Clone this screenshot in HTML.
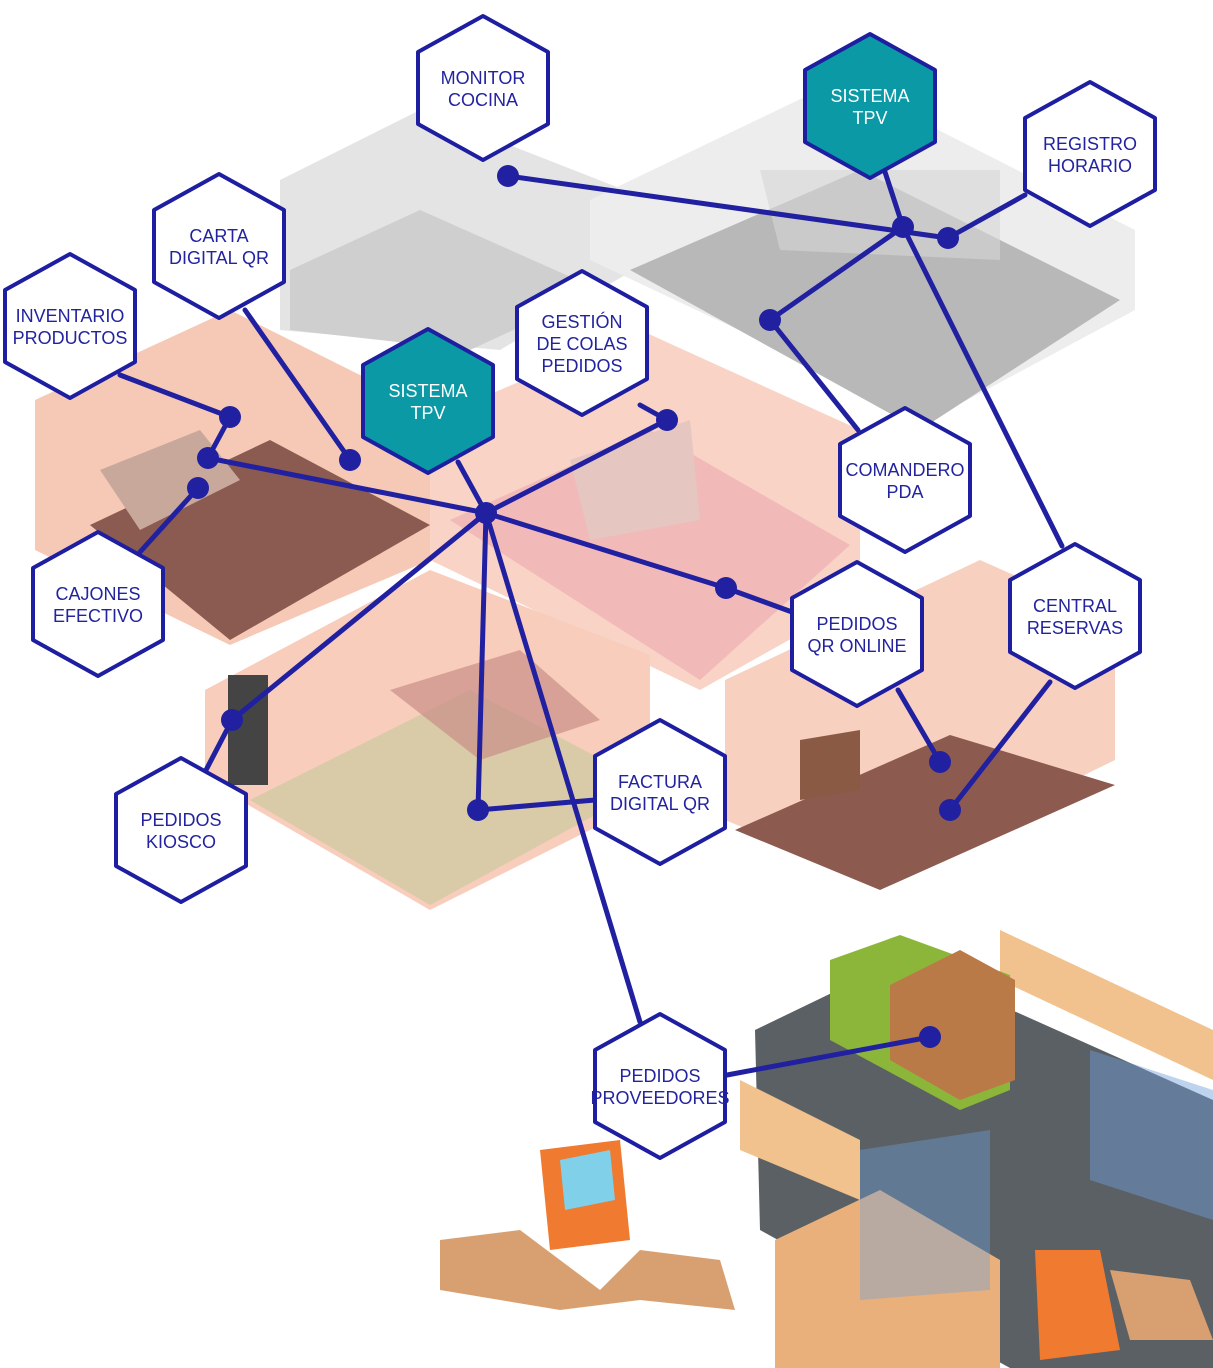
<!DOCTYPE html>
<html><head><meta charset="utf-8"><style>
html,body{margin:0;padding:0;background:#fff;}
svg{display:block}
text{font-family:"Liberation Sans",sans-serif;font-size:18px;text-anchor:middle;fill:#2323a0;}
.t text{fill:#fff;}
</style></head><body>
<svg width="1213" height="1368" viewBox="0 0 1213 1368" xmlns="http://www.w3.org/2000/svg">
<g>
<polygon points="280,180,420,110,650,200,650,260,500,350,280,330" fill="#e4e4e4"/>
<polygon points="290,270,420,210,600,290,470,350,290,330" fill="#cfcfcf"/>
<polygon points="590,200,840,80,1135,230,1135,310,930,420,590,260" fill="#ededed"/>
<polygon points="630,270,860,170,1120,300,920,430" fill="#b8b8b8"/>
<polygon points="760,170,1000,170,1000,260,780,250" fill="#d5d5d5" opacity="0.6"/>
<polygon points="35,400,230,310,430,410,430,560,230,645,35,550" fill="#f6c9b6"/>
<polygon points="90,525,270,440,430,525,230,640" fill="#8b5a50"/>
<polygon points="100,470,200,430,240,480,140,530" fill="#c9a89c"/>
<polygon points="430,420,640,330,860,430,860,600,700,690,430,560" fill="#f8d3c6"/>
<polygon points="450,520,650,430,850,545,700,680" fill="#f2b9b9"/>
<polygon points="570,460,690,420,700,520,590,540" fill="#e6c6c0"/>
<polygon points="205,690,430,570,650,655,650,800,430,910,205,780" fill="#f8cdbb"/>
<polygon points="250,800,470,690,650,785,430,905" fill="#d9caa8"/>
<polygon points="390,690,520,650,600,720,480,760" fill="#c98e87" opacity="0.7"/>
<rect x="228" y="675" width="40" height="110" fill="#444"/>
<polygon points="725,680,980,560,1115,620,1115,760,870,880,725,820" fill="#f8d0bf"/>
<polygon points="735,830,950,735,1115,785,880,890" fill="#8c5a4f"/>
<polygon points="800,740,860,730,860,790,800,800" fill="#8b5a45"/>
<polygon points="755,1030,900,960,1213,1100,1213,1368,1010,1368,760,1230" fill="#5b6064"/>
<polygon points="1000,930,1213,1030,1213,1080,1000,980" fill="#f1c28d"/>
<polygon points="740,1080,860,1140,860,1200,740,1150" fill="#f1c28d"/>
<polygon points="775,1240,880,1190,1000,1260,1000,1368,775,1368" fill="#eab07c"/>
<polygon points="830,960,900,935,1010,975,1010,1090,960,1110,830,1040" fill="#8bb63a"/>
<polygon points="890,985,960,950,1015,980,1015,1080,960,1100,890,1060" fill="#b97a48"/>
<polygon points="1090,1050,1213,1090,1213,1220,1090,1180" fill="#6f9fd9" opacity="0.45"/>
<polygon points="860,1150,990,1130,990,1290,860,1300" fill="#6f9fd9" opacity="0.4"/>
<polygon points="1035,1250,1100,1250,1120,1350,1040,1360" fill="#f07a30"/>
<polygon points="540,1150,620,1140,630,1240,550,1250" fill="#f07a30"/>
<polygon points="560,1160,610,1150,615,1200,565,1210" fill="#7fd0e8"/>
<polygon points="440,1240,520,1230,600,1290,640,1250,720,1260,735,1310,640,1300,560,1310,440,1290" fill="#d8a070"/>
<polygon points="1110,1270,1190,1280,1213,1340,1130,1340" fill="#d8a070"/>
</g>
<g stroke="#2020a0" stroke-width="5" fill="none" stroke-linecap="round">
<line x1="508" y1="176" x2="948" y2="238"/>
<line x1="885" y1="172" x2="903" y2="227"/>
<line x1="1025" y1="195" x2="948" y2="238"/>
<line x1="903" y1="227" x2="770" y2="320"/>
<line x1="770" y1="320" x2="858" y2="430"/>
<line x1="903" y1="227" x2="1062" y2="546"/>
<line x1="120" y1="375" x2="230" y2="417"/>
<line x1="230" y1="417" x2="208" y2="458"/>
<line x1="245" y1="310" x2="350" y2="460"/>
<line x1="208" y1="458" x2="486" y2="513"/>
<line x1="140" y1="552" x2="198" y2="488"/>
<line x1="458" y1="462" x2="486" y2="513"/>
<line x1="640" y1="405" x2="667" y2="420"/>
<line x1="667" y1="420" x2="486" y2="513"/>
<line x1="486" y1="513" x2="726" y2="588"/>
<line x1="726" y1="588" x2="792" y2="612"/>
<line x1="486" y1="513" x2="232" y2="720"/>
<line x1="232" y1="720" x2="205" y2="772"/>
<line x1="486" y1="513" x2="478" y2="810"/>
<line x1="478" y1="810" x2="595" y2="800"/>
<line x1="486" y1="513" x2="640" y2="1022"/>
<line x1="898" y1="690" x2="940" y2="762"/>
<line x1="1050" y1="682" x2="950" y2="810"/>
<line x1="727" y1="1075" x2="930" y2="1037"/>
</g>
<g fill="#2020a0">
<circle cx="508" cy="176" r="11"/><circle cx="948" cy="238" r="11"/><circle cx="903" cy="227" r="11"/>
<circle cx="770" cy="320" r="11"/><circle cx="230" cy="417" r="11"/><circle cx="208" cy="458" r="11"/>
<circle cx="198" cy="488" r="11"/><circle cx="350" cy="460" r="11"/><circle cx="667" cy="420" r="11"/>
<circle cx="486" cy="513" r="11"/><circle cx="726" cy="588" r="11"/><circle cx="232" cy="720" r="11"/>
<circle cx="478" cy="810" r="11"/><circle cx="940" cy="762" r="11"/><circle cx="950" cy="810" r="11"/>
<circle cx="930" cy="1037" r="11"/>
</g>
<defs>
<polygon id="hx" points="0,-72 65,-36 65,36 0,72 -65,36 -65,-36" stroke="#1e1ea0" stroke-width="4" stroke-linejoin="round"/>
</defs>
<g fill="#fff">
<use href="#hx" x="483" y="88"/><use href="#hx" x="1090" y="154"/><use href="#hx" x="219" y="246"/>
<use href="#hx" x="582" y="343"/><use href="#hx" x="70" y="326"/><use href="#hx" x="905" y="480"/>
<use href="#hx" x="98" y="604"/><use href="#hx" x="857" y="634"/><use href="#hx" x="1075" y="616"/>
<use href="#hx" x="660" y="792"/><use href="#hx" x="181" y="830"/><use href="#hx" x="660" y="1086"/>
</g>
<g fill="#0b9aa5">
<use href="#hx" x="870" y="106"/><use href="#hx" x="428" y="401"/>
</g>
<g>
<text x="483" y="84">MONITOR</text><text x="483" y="106">COCINA</text>
<text x="1090" y="150">REGISTRO</text><text x="1090" y="172">HORARIO</text>
<text x="219" y="242">CARTA</text><text x="219" y="264">DIGITAL QR</text>
<text x="582" y="328">GESTIÓN</text><text x="582" y="350">DE COLAS</text><text x="582" y="372">PEDIDOS</text>
<text x="70" y="322">INVENTARIO</text><text x="70" y="344">PRODUCTOS</text>
<text x="905" y="476">COMANDERO</text><text x="905" y="498">PDA</text>
<text x="98" y="600">CAJONES</text><text x="98" y="622">EFECTIVO</text>
<text x="857" y="630">PEDIDOS</text><text x="857" y="652">QR ONLINE</text>
<text x="1075" y="612">CENTRAL</text><text x="1075" y="634">RESERVAS</text>
<text x="660" y="788">FACTURA</text><text x="660" y="810">DIGITAL QR</text>
<text x="181" y="826">PEDIDOS</text><text x="181" y="848">KIOSCO</text>
<text x="660" y="1082">PEDIDOS</text><text x="660" y="1104">PROVEEDORES</text>
</g>
<g class="t">
<text x="870" y="102">SISTEMA</text><text x="870" y="124">TPV</text>
<text x="428" y="397">SISTEMA</text><text x="428" y="419">TPV</text>
</g>
</svg>
</body></html>
